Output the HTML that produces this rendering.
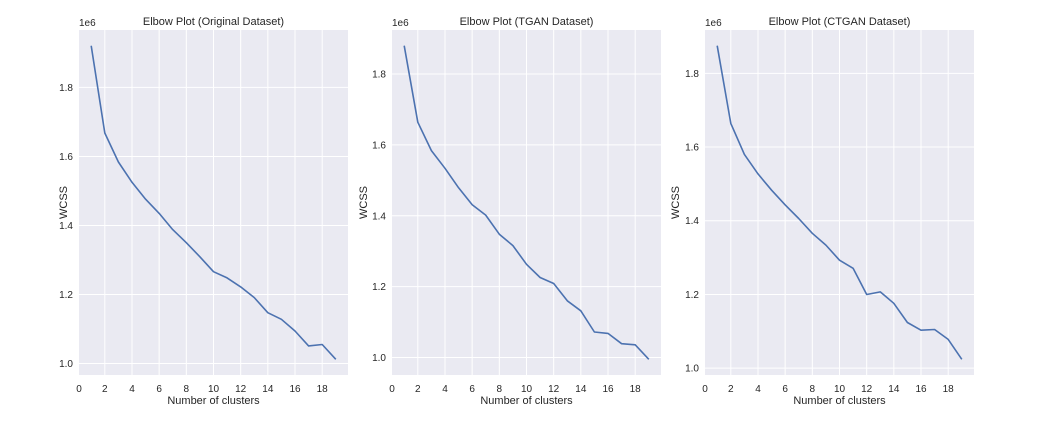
<!DOCTYPE html>
<html><head><meta charset="utf-8"><style>
body{margin:0;background:#fff;}
svg text{font-family:"Liberation Sans",Arial,sans-serif;fill:#262626;}
</style></head><body>
<svg id="chart" width="1045" height="426" xmlns="http://www.w3.org/2000/svg"></svg>
<script>
const clusters = [1,2,3,4,5,6,7,8,9,10,11,12,13,14,15,16,17,18,19];
const wcssOriginal = [1.921,1.668,1.584,1.525,1.476,1.435,1.388,1.350,1.309,1.266,1.248,1.222,1.191,1.147,1.128,1.094,1.051,1.055,1.012];
const wcssTGAN = [1.880,1.664,1.584,1.534,1.479,1.431,1.402,1.348,1.316,1.263,1.226,1.209,1.160,1.132,1.072,1.068,1.039,1.036,0.995];
const wcssCTGAN = [1.875,1.664,1.580,1.527,1.483,1.443,1.406,1.366,1.334,1.293,1.271,1.200,1.207,1.176,1.124,1.103,1.105,1.078,1.024];
const titles = ["Elbow Plot (Original Dataset)","Elbow Plot (TGAN Dataset)","Elbow Plot (CTGAN Dataset)"];
const xTicks = [0,2,4,6,8,10,12,14,16,18];
const yTicks = [1.0,1.2,1.4,1.6,1.8];

const NS="http://www.w3.org/2000/svg";
const svg=document.getElementById('chart');
function mk(tag,attrs,parent){const e=document.createElementNS(NS,tag);for(const k in attrs)e.setAttribute(k,attrs[k]);(parent||svg).appendChild(e);return e;}
const panels=[{L:79,R:348,lab:67,data:wcssOriginal,key:'original'},{L:392,R:661,lab:367,data:wcssTGAN,key:'tgan'},{L:705,R:974,lab:679,data:wcssCTGAN,key:'ctgan'}];
const T=30,B=375;
panels.forEach((p,i)=>{
  const g=mk('g',{});
  
  
  const xmin=0.1,xmax=19.9;
  const dmin=Math.min(...p.data),dmax=Math.max(...p.data),rg=dmax-dmin;
  const ymin=dmin-0.05*rg,ymax=dmax+0.05*rg;
  const sx=v=>p.L+(v-xmin)/(xmax-xmin)*(p.R-p.L);
  const sy=v=>B-(v-ymin)/(ymax-ymin)*(B-T);
  const bg=mk('rect',{x:p.L,y:T,width:p.R-p.L,height:B-T,fill:'#eaeaf2'},g);
  
  
  xTicks.forEach(t=>{
    const x=sx(t);
    if(x>=p.L-0.5){const l=mk('line',{x1:x,x2:x,y1:T,y2:B,stroke:'#fff','stroke-width':1},g);
    
    }
    const tx=mk('text',{x:Math.max(x,p.L),y:B+17,'font-size':10,'text-anchor':'middle'},g);
    tx.textContent=t;
    
    
  });
  yTicks.forEach(t=>{
    const y=sy(t);
    const l=mk('line',{x1:p.L,x2:p.R,y1:y,y2:y,stroke:'#fff','stroke-width':1},g);
    
    
    const tx=mk('text',{x:p.L-6,y:y+3.5,'font-size':10,'text-anchor':'end'},g);
    tx.textContent=t.toFixed(1);
    
    
  });
  const pts=clusters.map((c,j)=>sx(c).toFixed(1)+','+sy(p.data[j]).toFixed(1)).join(' ');
  const pl=mk('polyline',{points:pts,fill:'none',stroke:'#4c72b0','stroke-width':1.6,'stroke-linejoin':'round'},g);
  
  
  const ti=mk('text',{x:(p.L+p.R)/2,y:25,'font-size':11,'text-anchor':'middle'},g);
  ti.textContent=titles[i];
  
  
  const off=mk('text',{x:p.L,y:26,'font-size':10},g);
  off.textContent='1e6';
  
  
  const xl=mk('text',{x:(p.L+p.R)/2,y:404,'font-size':11,'text-anchor':'middle'},g);
  xl.textContent='Number of clusters';
  
  
  const yl=mk('text',{x:0,y:0,'font-size':11,'text-anchor':'middle',transform:'translate('+p.lab+','+((T+B)/2)+') rotate(-90)'},g);
  yl.textContent='WCSS';
  
  
});
</script>
</body></html>
